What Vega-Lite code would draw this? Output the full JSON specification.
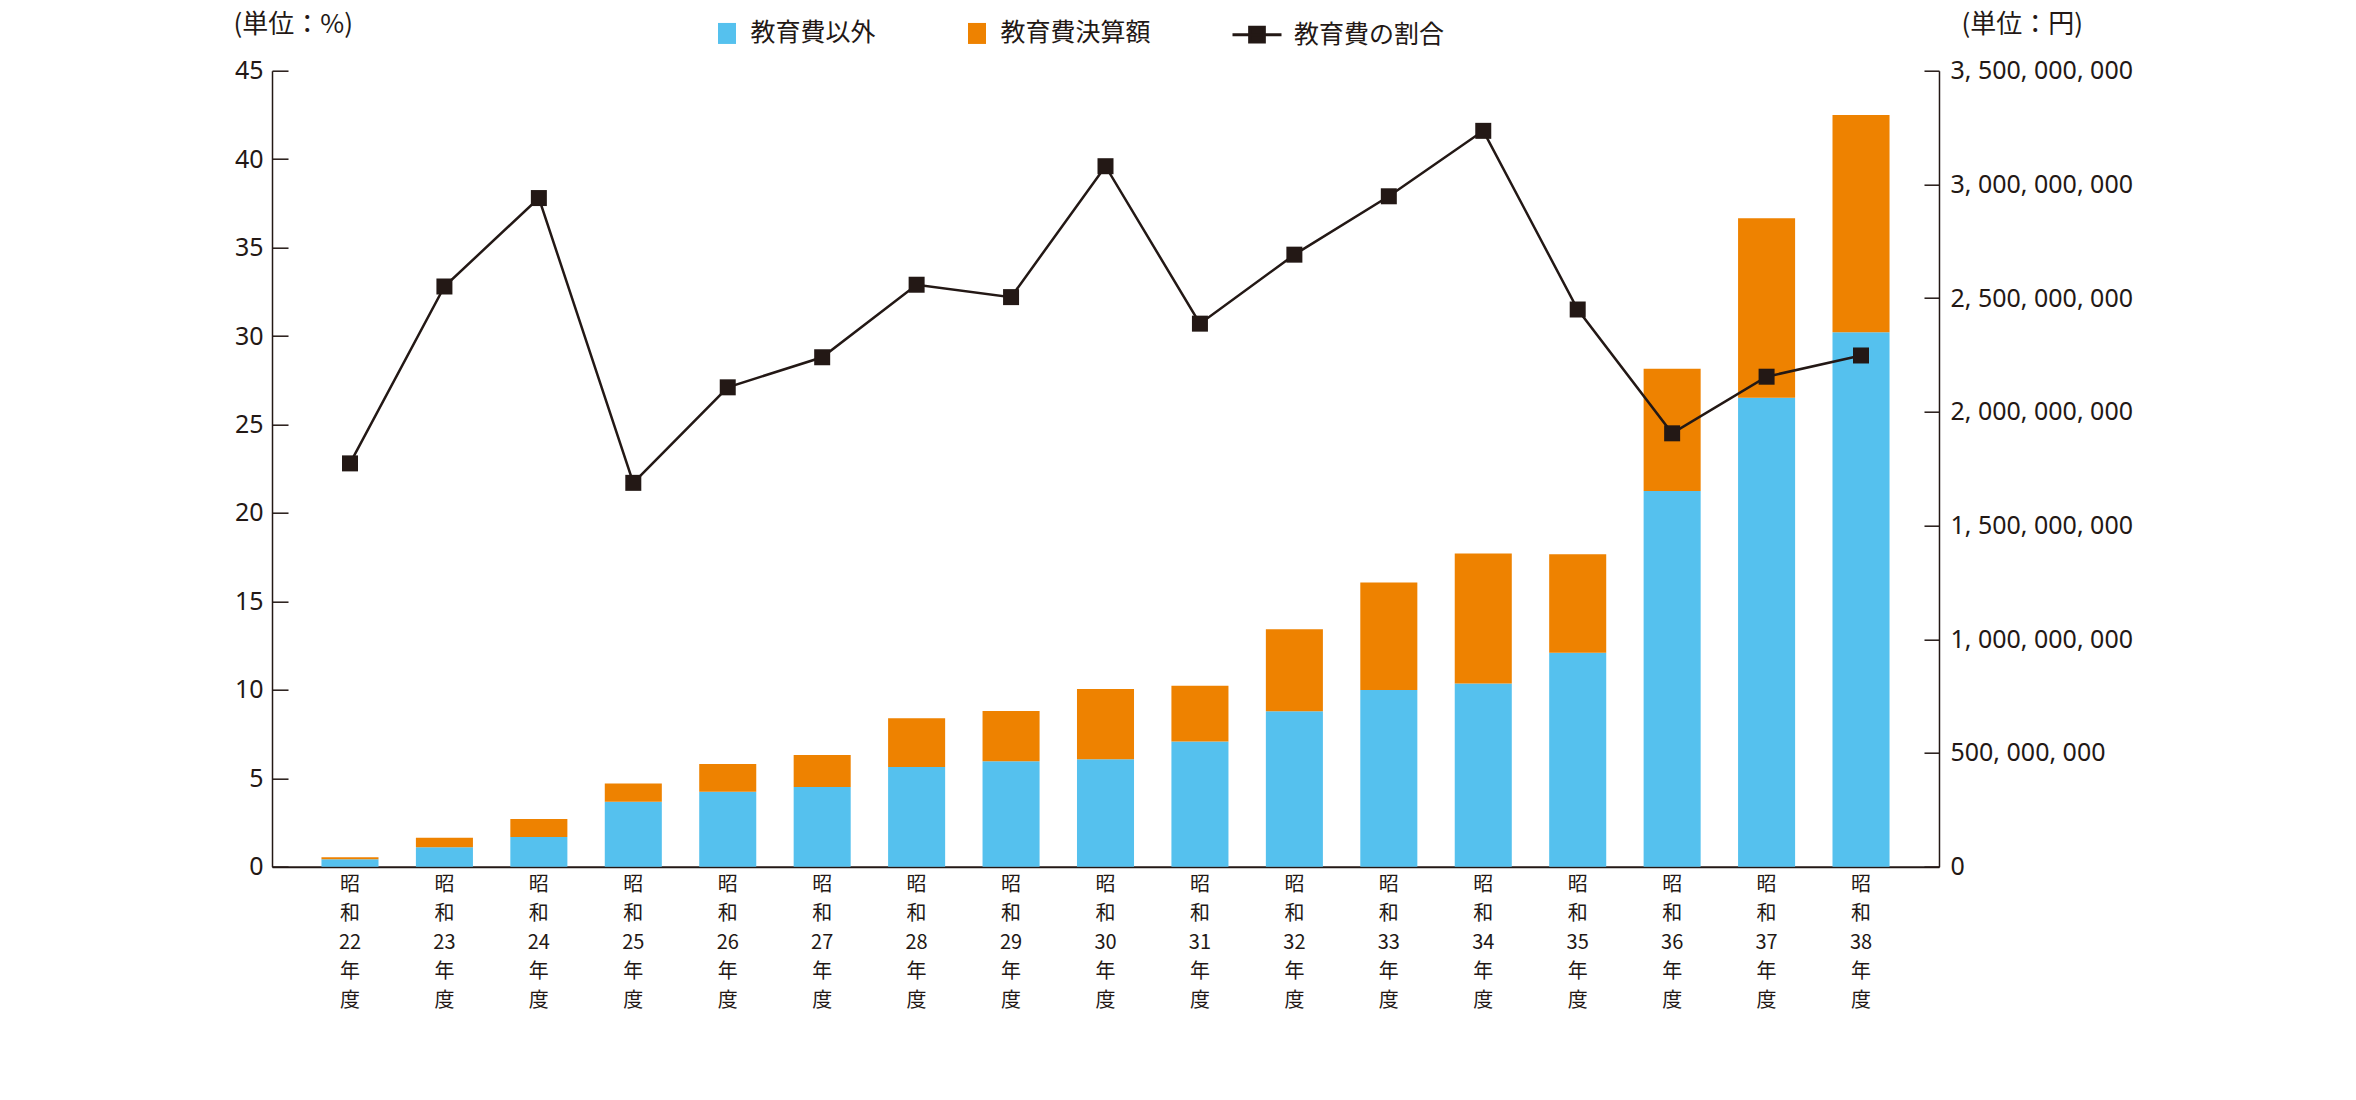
{
  "$schema": "https://vega.github.io/schema/vega-lite/v6.json",
  "width": 1667,
  "height": 796,
  "autosize": {"type": "none"},
  "padding": {"left": 272, "top": 70.7, "right": 417, "bottom": 233.5},
  "background": "white",
  "config": {"view": {"stroke": null}, "font": "Noto Sans CJK JP"},
  "datasets": {
    "bars": [
      {"year": "昭和22年度", "series": "教育費以外", "value": 32300000},
      {"year": "昭和22年度", "series": "教育費決算額", "value": 9500000},
      {"year": "昭和23年度", "series": "教育費以外", "value": 85500000},
      {"year": "昭和23年度", "series": "教育費決算額", "value": 41500000},
      {"year": "昭和24年度", "series": "教育費以外", "value": 131000000},
      {"year": "昭和24年度", "series": "教育費決算額", "value": 79000000},
      {"year": "昭和25年度", "series": "教育費以外", "value": 286000000},
      {"year": "昭和25年度", "series": "教育費決算額", "value": 79500000},
      {"year": "昭和26年度", "series": "教育費以外", "value": 330000000},
      {"year": "昭和26年度", "series": "教育費決算額", "value": 122000000},
      {"year": "昭和27年度", "series": "教育費以外", "value": 350000000},
      {"year": "昭和27年度", "series": "教育費決算額", "value": 141500000},
      {"year": "昭和28年度", "series": "教育費以外", "value": 438000000},
      {"year": "昭和28年度", "series": "教育費決算額", "value": 215000000},
      {"year": "昭和29年度", "series": "教育費以外", "value": 464000000},
      {"year": "昭和29年度", "series": "教育費決算額", "value": 221000000},
      {"year": "昭和30年度", "series": "教育費以外", "value": 472000000},
      {"year": "昭和30年度", "series": "教育費決算額", "value": 309000000},
      {"year": "昭和31年度", "series": "教育費以外", "value": 551000000},
      {"year": "昭和31年度", "series": "教育費決算額", "value": 244500000},
      {"year": "昭和32年度", "series": "教育費以外", "value": 683000000},
      {"year": "昭和32年度", "series": "教育費決算額", "value": 361000000},
      {"year": "昭和33年度", "series": "教育費以外", "value": 777000000},
      {"year": "昭和33年度", "series": "教育費決算額", "value": 473000000},
      {"year": "昭和34年度", "series": "教育費以外", "value": 805000000},
      {"year": "昭和34年度", "series": "教育費決算額", "value": 572000000},
      {"year": "昭和35年度", "series": "教育費以外", "value": 941000000},
      {"year": "昭和35年度", "series": "教育費決算額", "value": 433000000},
      {"year": "昭和36年度", "series": "教育費以外", "value": 1652000000},
      {"year": "昭和36年度", "series": "教育費決算額", "value": 537000000},
      {"year": "昭和37年度", "series": "教育費以外", "value": 2062000000},
      {"year": "昭和37年度", "series": "教育費決算額", "value": 789000000},
      {"year": "昭和38年度", "series": "教育費以外", "value": 2350000000},
      {"year": "昭和38年度", "series": "教育費決算額", "value": 955000000}
    ],
    "share": [
      {"year": "昭和22年度", "share": 22.8},
      {"year": "昭和23年度", "share": 32.8},
      {"year": "昭和24年度", "share": 37.8},
      {"year": "昭和25年度", "share": 21.7},
      {"year": "昭和26年度", "share": 27.1},
      {"year": "昭和27年度", "share": 28.8},
      {"year": "昭和28年度", "share": 32.9},
      {"year": "昭和29年度", "share": 32.2},
      {"year": "昭和30年度", "share": 39.6},
      {"year": "昭和31年度", "share": 30.7},
      {"year": "昭和32年度", "share": 34.6},
      {"year": "昭和33年度", "share": 37.9},
      {"year": "昭和34年度", "share": 41.6},
      {"year": "昭和35年度", "share": 31.5},
      {"year": "昭和36年度", "share": 24.5},
      {"year": "昭和37年度", "share": 27.7},
      {"year": "昭和38年度", "share": 28.9}
    ]
  },
  "resolve": {"scale": {"y": "independent", "color": "independent"}},
  "layer": [
    {
      "data": {"name": "bars"},
      "mark": {"type": "bar"},
      "encoding": {
        "x": {
          "field": "year", "type": "ordinal", "sort": null,
          "scale": {"paddingInner": 0.396, "paddingOuter": 0.5236},
          "axis": {
            "title": null, "ticks": false, "labelAngle": 0,
            "labelExpr": "['昭','和', slice(datum.value, 2, 4), '年','度']",
            "labelLineHeight": 29, "labelFontSize": 20, "labelBaseline": "top",
            "labelPadding": 8, "labelColor": "#231815", "labelFont": "Noto Sans CJK JP",
            "domainColor": "#231815", "domainWidth": 2
          }
        },
        "y": {
          "field": "value", "type": "quantitative", "stack": "zero",
          "scale": {"domain": [0, 3500000000], "nice": false},
          "axis": {
            "orient": "right",
            "values": [0, 500000000, 1000000000, 1500000000, 2000000000, 2500000000, 3000000000, 3500000000],
            "grid": false,
            "title": "(単位：円)", "titleAngle": 0, "titleX": 22, "titleY": -46,
            "titleAlign": "left", "titleBaseline": "middle", "titleFontSize": 26,
            "titleFontWeight": "normal", "titleColor": "#231815", "titleFont": "Noto Sans CJK JP",
            "labelExpr": "replace(format(datum.value, ','), regexp(',', 'g'), ', ')",
            "labelFontSize": 25, "labelLimit": 0, "labelColor": "#231815", "labelFont": "Noto Sans",
            "labelOverlap": false, "labelBaseline": "middle",
            "tickSize": -15, "tickColor": "#231815", "tickWidth": 1.5,
            "domainColor": "#231815", "domainWidth": 1.5, "labelPadding": 26
          }
        },
        "color": {
          "field": "series", "type": "nominal",
          "scale": {"domain": ["教育費以外", "教育費決算額"], "range": ["#55C1EE", "#EE8200"]},
          "legend": {
            "orient": "none", "legendX": 442.5, "legendY": -50, "direction": "horizontal",
            "title": null, "symbolType": "M-0.857,-1H0.857V1H-0.857Z", "symbolSize": 441,
            "symbolStrokeWidth": 0, "labelFontSize": 25, "labelOffset": 11, "columnPadding": 88,
            "labelColor": "#231815", "labelFont": "Noto Sans CJK JP", "padding": 0
          }
        },
        "order": {"field": "series", "sort": "ascending"}
      }
    },
    {
      "data": {"name": "share"},
      "encoding": {
        "x": {"field": "year", "type": "ordinal", "sort": null},
        "y": {
          "field": "share", "type": "quantitative",
          "scale": {"domain": [0, 45], "nice": false},
          "axis": {
            "orient": "left", "values": [0, 5, 10, 15, 20, 25, 30, 35, 40, 45], "grid": false,
            "title": "(単位：%)", "titleAngle": 0, "titleX": -39, "titleY": -46,
            "titleAlign": "left", "titleBaseline": "middle", "titleFontSize": 26,
            "titleFontWeight": "normal", "titleColor": "#231815", "titleFont": "Noto Sans CJK JP",
            "labelFontSize": 25, "labelColor": "#231815", "labelFont": "Noto Sans",
            "labelOverlap": false, "labelBaseline": "middle",
            "tickSize": -16, "tickColor": "#231815", "tickWidth": 1.5,
            "domainColor": "#231815", "domainWidth": 1.5, "labelPadding": 25
          }
        }
      },
      "layer": [
        {
          "mark": {"type": "line", "strokeWidth": 2.5},
          "encoding": {
            "color": {
              "datum": "教育費の割合",
              "scale": {"range": ["#231815"]},
              "legend": {
                "orient": "none", "legendX": 959, "legendY": -62, "title": null,
                "symbolType": "M-1,0H1M-0.3,-0.3H0.3V0.3H-0.3Z", "symbolSize": 2401,
                "symbolStrokeWidth": 3, "symbolFillColor": "#231815", "symbolStrokeColor": "#231815",
                "labelFontSize": 25, "labelOffset": 11, "labelColor": "#231815",
                "labelFont": "Noto Sans CJK JP", "padding": 0,
                "encode": {"symbols": {"update": {"fill": {"value": "#231815"}, "stroke": {"value": "#231815"}, "strokeWidth": {"value": 3}}}}
              }
            }
          }
        },
        {
          "mark": {"type": "square", "size": 256, "color": "#231815", "filled": true, "opacity": 1}
        }
      ]
    }
  ]
}
